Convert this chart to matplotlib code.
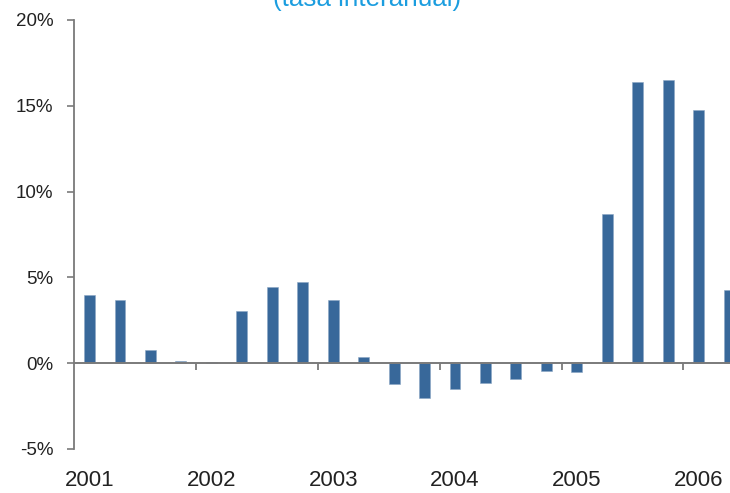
import numpy as np
import matplotlib
matplotlib.use("Agg")
import matplotlib.pyplot as plt
from matplotlib.transforms import blended_transform_factory

plt.rcParams['font.family'] = ['Liberation Sans', 'DejaVu Sans']

# quarterly year-on-year rate, 2001 Q1 .. 2006 Q2
values = [4.0, 3.67, 0.76, 0.14,
          0.06, 3.05, 4.43, 4.72,
          3.67, 0.36, -1.24, -2.0,
          -1.48, -1.15, -0.93, -0.43,
          -0.52, 8.68, 16.41, 16.53,
          14.74, 4.29]
years = ['2001', '2002', '2003', '2004', '2005', '2006']
y_ticks = [-5, 0, 5, 10, 15, 20]
title = '(tasa interanual)'

bar_color = '#38689a'
axis_color = '#7a7a7a'

fig = plt.figure(figsize=(7.3, 4.93), dpi=100)
ax = fig.add_axes([74 / 730, 1 - 449 / 493, 1 - 74 / 730, (449 - 20) / 493])

x = np.arange(len(values))
ax.bar(x, values, width=0.36, color=bar_color, edgecolor='#8aa6c4', linewidth=0.4, zorder=2)

ax.set_xlim(-0.51, 21.03)
ax.set_ylim(-5, 20)

for s in ['top', 'right']:
    ax.spines[s].set_visible(False)
ax.spines['bottom'].set_position(('data', 0))
ax.spines['bottom'].set_color(axis_color)
ax.spines['bottom'].set_linewidth(1.4)
ax.spines['bottom'].set_zorder(3)
ax.spines['left'].set_color(axis_color)
ax.spines['left'].set_linewidth(1.3)

ax.set_yticks(y_ticks)
ax.set_yticklabels([f'{v}%' for v in y_ticks])
ax.tick_params(axis='y', direction='out', length=5, width=1.2, color=axis_color,
               pad=10, labelsize=13.5, labelcolor='#222222')

# year boundaries as ticks, labels under the plot
ax.set_xticks(np.arange(3.5, len(values), 4))
ax.set_xticklabels([])
ax.tick_params(axis='x', direction='out', length=5, width=1.3, color=axis_color)

trans = blended_transform_factory(ax.transData, fig.transFigure)
for i, yr in enumerate(years):
    ax.text(i * 4, 1 - 481 / 493, yr, transform=trans, ha='center', va='center',
            fontsize=16, color='#222222', clip_on=False)

fig.text(367 / 730, 1 - 6 / 493, title, ha='center', va='baseline',
         fontsize=18.7, color='#1b9ddf')

fig.savefig('out.png', dpi=100)
